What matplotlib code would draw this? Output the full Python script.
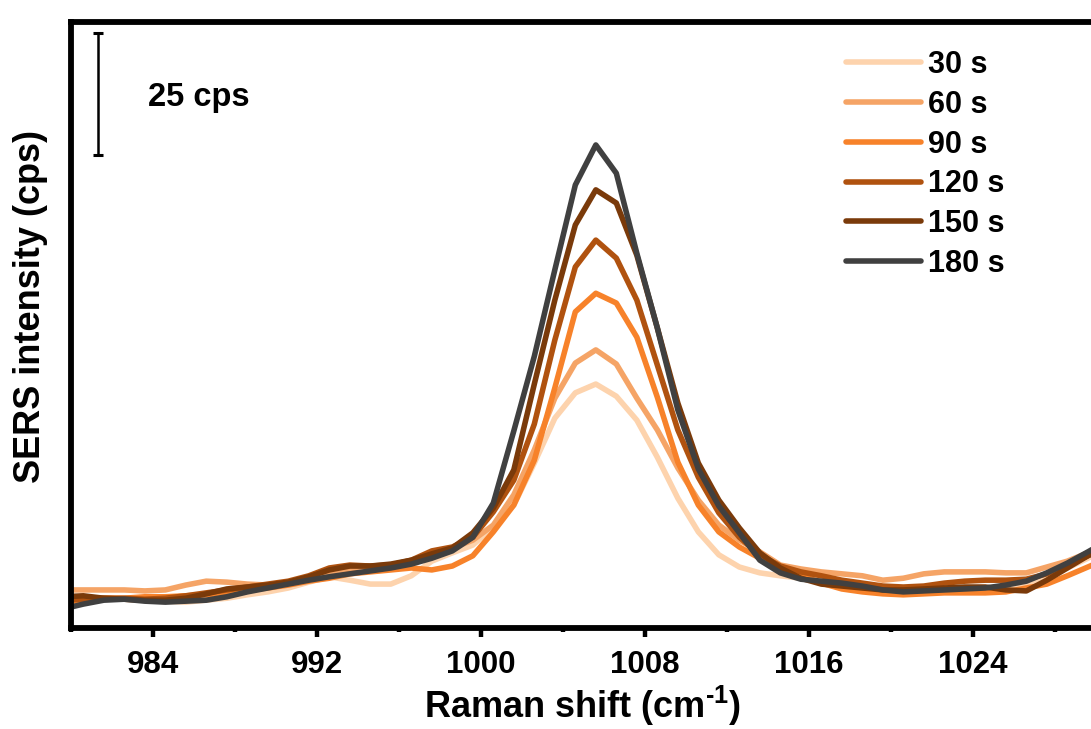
import matplotlib
matplotlib.use("Agg")
import matplotlib.pyplot as plt
from matplotlib.ticker import MultipleLocator

plt.rcParams['font.family'] = ['Liberation Sans', 'DejaVu Sans']
plt.rcParams['font.weight'] = 'bold'
plt.rcParams['mathtext.fontset'] = 'custom'
plt.rcParams['mathtext.rm'] = 'Liberation Sans:bold'
plt.rcParams['mathtext.bf'] = 'Liberation Sans:bold'
plt.rcParams['mathtext.default'] = 'rm'

# Raman shift axis (cm^-1)
shift = [979.6, 980.6, 981.6, 982.6, 983.6, 984.6, 985.6, 986.6, 987.6, 988.6,
         989.6, 990.6, 991.6, 992.6, 993.6, 994.6, 995.6, 996.6, 997.6, 998.6,
         999.6, 1000.6, 1001.6, 1002.6, 1003.6, 1004.6, 1005.6, 1006.6, 1007.6, 1008.6,
         1009.6, 1010.6, 1011.6, 1012.6, 1013.6, 1014.6, 1015.6, 1016.6, 1017.6, 1018.6,
         1019.6, 1020.6, 1021.6, 1022.6, 1023.6, 1024.6, 1025.6, 1026.6, 1027.6, 1028.6,
         1029.6, 1030.6]

# SERS intensity (cps) for each acquisition time
i_30s = [6.1, 6.1, 6.1, 5.9, 5.7, 5.5, 5.3, 5.7, 6.1, 6.8,
         7.4, 8.2, 9.4, 10.5, 9.8, 9.0, 9.0, 10.7, 13.7, 15.4,
         17.0, 20.7, 25.2, 33.8, 43.0, 48.2, 50.0, 47.5, 42.6, 35.0,
         26.6, 19.7, 15.0, 12.5, 11.3, 10.7, 10.2, 9.8, 9.2, 8.8,
         8.2, 7.8, 7.8, 7.8, 8.0, 8.2, 8.6, 9.2, 10.5, 12.3,
         14.3, 16.4]
i_60s = [7.8, 7.8, 7.8, 7.8, 7.6, 7.8, 8.8, 9.6, 9.4, 9.0,
         8.8, 9.0, 9.8, 10.9, 11.9, 12.3, 12.7, 13.5, 15.0, 16.4,
         18.0, 21.1, 27.3, 36.5, 47.1, 54.3, 57.0, 54.1, 47.1, 40.6,
         32.8, 26.2, 21.1, 18.0, 15.6, 12.9, 12.1, 11.5, 11.1, 10.7,
         9.8, 10.2, 11.1, 11.5, 11.5, 11.5, 11.3, 11.3, 12.5, 13.7,
         15.4, 17.0]
i_90s = [5.3, 5.7, 6.1, 6.1, 6.4, 6.4, 6.6, 6.8, 7.2, 7.8,
         8.2, 8.8, 9.6, 10.2, 11.1, 11.5, 11.9, 12.3, 11.9, 12.7,
         14.8, 19.7, 25.2, 34.4, 49.2, 64.8, 68.6, 66.6, 59.6, 47.3,
         34.0, 25.2, 19.7, 16.6, 14.3, 12.5, 10.9, 9.2, 8.0, 7.4,
         7.0, 6.8, 7.0, 7.2, 7.2, 7.2, 7.4, 8.2, 9.0, 10.7,
         12.5, 14.3]
i_120s = [5.7, 5.9, 6.1, 6.1, 5.9, 6.1, 6.6, 7.2, 7.8, 8.4,
          9.0, 9.6, 10.7, 12.3, 12.9, 12.7, 12.9, 13.9, 15.8, 16.6,
          18.6, 23.8, 30.3, 41.8, 59.0, 74.0, 79.5, 75.8, 67.2, 53.9,
          40.6, 30.9, 23.6, 18.6, 15.0, 12.7, 11.5, 10.7, 9.8, 9.2,
          8.6, 8.4, 8.6, 9.2, 9.6, 9.8, 9.8, 10.0, 11.1, 12.9,
          14.8, 16.8]
i_150s = [6.4, 6.6, 6.1, 5.9, 5.7, 5.7, 6.1, 7.0, 8.0, 8.4,
          8.8, 9.4, 10.5, 11.9, 12.7, 12.7, 13.1, 13.9, 15.2, 16.4,
          19.5, 24.6, 32.4, 50.0, 67.2, 82.6, 89.8, 87.1, 76.4, 61.5,
          46.1, 33.8, 26.2, 20.5, 15.4, 12.3, 10.2, 9.0, 8.6, 8.2,
          7.8, 7.8, 8.0, 8.2, 8.4, 8.4, 7.8, 7.6, 9.8, 12.3,
          14.8, 17.0]
i_180s = [3.9, 4.9, 5.7, 5.9, 5.5, 5.3, 5.5, 5.7, 6.4, 7.4,
          8.2, 9.0, 9.8, 10.5, 11.1, 11.7, 12.3, 13.1, 14.3, 15.8,
          18.6, 25.6, 40.4, 55.7, 73.4, 90.8, 99.0, 93.2, 76.8, 61.5,
          44.7, 32.6, 25.0, 19.5, 13.9, 11.3, 10.0, 9.6, 9.2, 8.6,
          7.8, 7.4, 7.6, 7.8, 8.0, 8.2, 8.8, 9.6, 11.3, 13.3,
          15.6, 18.0]

labels = ['30 s', '60 s', '90 s', '120 s', '150 s', '180 s']
series = [i_30s, i_60s, i_90s, i_120s, i_150s, i_180s]
colors = ['#fdd3ad', '#f5a466', '#f7822a', '#b0520f', '#7a3a0a', '#404040']

# scale bar: 25 cps
bar_x = 981.3
bar_lo, bar_hi = 97.0, 122.0

W, H = 1091, 729
fig = plt.figure(figsize=(W / 100, H / 100), dpi=100)
ax = fig.add_axes([71 / W, 1 - 628 / H, (1094 - 71) / W, (628 - 22) / H])

for y, lab, c in zip(series, labels, colors):
    ax.plot(shift, y, color=c, lw=4.0, label=lab,
            solid_joinstyle='round', solid_capstyle='round')

ax.set_xlim(980.0, 1029.9)
ax.set_ylim(0, 124.2)

ax.plot([bar_x, bar_x], [bar_lo, bar_hi], color='black', lw=1.8)
ax.plot([bar_x, bar_x], [bar_lo, bar_hi], ls='none', marker='_',
        markersize=7.5, markeredgewidth=2.2, color='black')
ax.text(983.75, 108.8, '25 cps', fontsize=23.5, fontweight='bold',
        va='center', ha='left')

ax.xaxis.set_major_locator(MultipleLocator(8))
ax.xaxis.set_minor_locator(MultipleLocator(4))
ax.tick_params(axis='x', which='major', direction='out', length=6.5,
               width=3.2, labelsize=22.5, pad=9)
ax.tick_params(axis='x', which='minor', direction='out', length=3.2, width=3.2)
ax.set_yticks([])
for lab in ax.get_xticklabels():
    lab.set_fontweight('bold')

for side in ['left', 'bottom', 'top', 'right']:
    ax.spines[side].set_linewidth(4.2)

ax.set_xlabel(r'Raman shift (cm$^{\text{-1}}$)', fontsize=26,
              fontweight='bold', labelpad=3)
ax.set_ylabel('SERS intensity (cps)', fontsize=26, fontweight='bold')
ax.yaxis.set_label_coords(-0.022, 0.53)

leg = ax.legend(loc='upper left', bbox_to_anchor=(846 / W, 1 - 50 / H),
                bbox_transform=fig.transFigure, frameon=False,
                fontsize=22, handlelength=2.45, handletextpad=0.25,
                labelspacing=0.32, borderpad=0, borderaxespad=0)
for t in leg.get_texts():
    t.set_fontweight('bold')
for h in leg.get_lines():
    h.set_linewidth(4.0)
    h.set_solid_capstyle('round')

fig.savefig('out.png', dpi=100, facecolor='white')
